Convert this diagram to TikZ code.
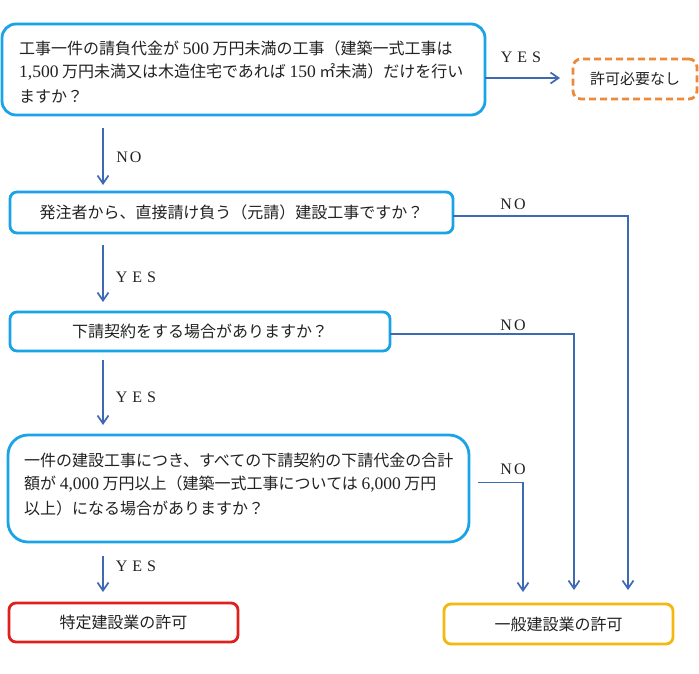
\documentclass[tikz,border=0pt]{standalone}
\usepackage{fontspec}
\setmainfont{Liberation Serif}
\newfontfamily\jp{Noto Sans CJK JP}
\usetikzlibrary{arrows.meta,calc}
\newcommand\latn[1]{{\rmfamily\fontsize{17.5}{24}\selectfont #1}}
\definecolor{qblue}{HTML}{1AA3E6}
\definecolor{arrblue}{HTML}{3D6AB3}
\definecolor{dorange}{HTML}{EC8A3A}
\definecolor{rred}{HTML}{E0201F}
\definecolor{ryellow}{HTML}{F5B80F}
\definecolor{txt}{HTML}{222222}
\begin{document}
\begin{tikzpicture}[x=1pt,y=-1pt,
  box/.style={draw, line width=2.8pt, inner sep=0pt, outer sep=0pt, text=txt,
    font=\jp\fontsize{16}{24}\selectfont},
  qbox/.style={box, draw=qblue, rounded corners=8pt},
  jtext/.style={inner sep=0pt, anchor=base west, text=txt, font=\jp\fontsize{16}{24}\selectfont},
  arr/.style={draw=arrblue, line width=1.8pt, -{Straight Barb[length=8pt,width=11pt,line width=1.7pt]}},
  lbl/.style={inner sep=0pt, text=txt, font=\fontsize{16}{18}\selectfont}]
\useasboundingbox (0,0) rectangle (699,673);
\fill[white] (0,0) rectangle (699,673);

% columns
\coordinate (cx) at (103,0);
\coordinate (xa) at (523,0);
\coordinate (xb) at (574,0);
\coordinate (xc) at (628,0);

% boxes
\node[qbox, rounded corners=14pt, minimum width=483pt, minimum height=91pt] (q1) at (243.5,69.5) {};
\node[jtext] (q1a) at (19,54.3) {工事一件の請負代金が \latn{500} 万円未満の工事（建築一式工事は};
\node[jtext] (q1b) at (19,77.7) {\latn{1,500} 万円未満又は木造住宅であれば \latn{150} ㎡未満）だけを行い};
\node[jtext] (q1c) at (19,102) {ますか？};

\node[box, draw=dorange, dash pattern=on 7pt off 4pt, rounded corners=8pt,
  minimum width=124pt, minimum height=40pt, font=\jp\fontsize{15}{18}\selectfont] (stop) at (635,79) {許可必要なし};

\node[qbox, rounded corners=7pt, minimum width=443pt, minimum height=41pt] (q2) at (231.5,212.5) {発注者から、直接請け負う（元請）建設工事ですか？};

\node[qbox, rounded corners=7pt, minimum width=380pt, minimum height=39pt] (q3) at (200,331.5) {下請契約をする場合がありますか？};

\node[qbox, rounded corners=20pt, minimum width=461pt, minimum height=107pt] (q4) at (238.5,488.5) {};
\node[jtext] (q4a) at (24,466) {一件の建設工事につき、すべての下請契約の下請代金の合計};
\node[jtext] (q4b) at (24,489.5) {額が \latn{4,000} 万円以上（建築一式工事については \latn{6,000} 万円};
\node[jtext] (q4c) at (24,514) {以上）になる場合がありますか？};

\node[box, draw=rred, rounded corners=7pt, minimum width=229pt, minimum height=39pt] (r1) at (123.5,622.5) {特定建設業の許可};
\node[box, draw=ryellow, rounded corners=7pt, minimum width=229pt, minimum height=40pt] (r2) at (558.5,624) {一般建設業の許可};

% connectors
\draw[arr] ($(q1.east)+(0,8.5)$) -- ($(stop.west)+(-13,-1)$);
\draw[arr] ($(q1.south -| cx)+(0,13)$) -- ($(q2.north -| cx)+(0,-7)$);
\draw[arr] ($(q2.south -| cx)+(0,12)$) -- ($(q3.north -| cx)+(0,-10)$);
\draw[arr] ($(q3.south -| cx)+(0,9)$) -- ($(q4.north -| cx)+(0,-10)$);
\draw[arr] ($(q4.south -| cx)+(0,14)$) -- ($(r1.north -| cx)+(0,-11)$);
\draw[arr] ($(q2.east)+(0,3.5)$) -| ($(r2.north -| xc)+(0,-14)$);
\draw[arr] ($(q3.east)+(0,2.5)$) -| ($(r2.north -| xb)+(0,-14)$);
\draw[arr] ($(q4.east)+(9,-6)$) -| ($(r2.north -| xa)+(0,-12)$);

% labels
\node[lbl] (l1) at (521,57) {Y\hspace{5pt}E\hspace{5pt}S};
\node[lbl] (l2) at (129,157) {N\hspace{2pt}O};
\node[lbl] (l3) at (513,204) {N\hspace{2pt}O};
\node[lbl] (l4) at (136,277) {Y\hspace{5pt}E\hspace{5pt}S};
\node[lbl] (l5) at (513,325) {N\hspace{2pt}O};
\node[lbl] (l6) at (136,397) {Y\hspace{5pt}E\hspace{5pt}S};
\node[lbl] (l7) at (513,469) {N\hspace{2pt}O};
\node[lbl] (l8) at (136,566) {Y\hspace{5pt}E\hspace{5pt}S};
\end{tikzpicture}
\end{document}
